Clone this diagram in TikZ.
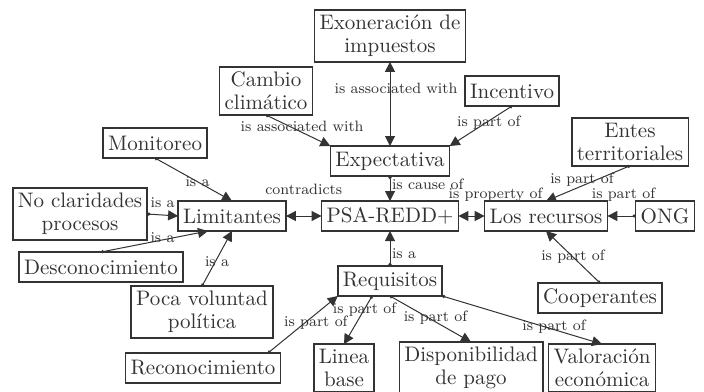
\documentclass[tikz,border=0pt]{standalone}
\usetikzlibrary{arrows.meta}
\definecolor{ink}{RGB}{51,51,51}
\begin{document}
\begin{tikzpicture}[x=0.5pt, y=-0.5pt, outer sep=0pt]
  \tikzstyle{concept}=[
    draw=ink,
    text=ink,
    rectangle,
    fill=white,
    line width=0.75pt,
    inner xsep=2.5pt,
    inner ysep=2.5pt,
    minimum height=15pt,
    align=center,
    font=\fontsize{10.5}{11.5}\selectfont
  ]
  \tikzstyle{link} = [draw=ink, line width=0.5pt, {Circle[length=1.6pt]}-{Triangle[length=5pt,width=5pt]}]
  \tikzstyle{twoway} = [draw=ink, line width=0.5pt, {Triangle[length=5pt,width=5pt]}-{Triangle[length=5pt,width=5pt]}]
  \tikzstyle{lbl}=[text=ink, inner sep=0pt, font=\fontsize{7.5}{8}\selectfont]

  \fill[white] (0,0) rectangle (704,391);
  \useasboundingbox (0,0) rectangle (704,391);

  % top
  \node[concept] (exon) at (390,36) {Exoneración de\\impuestos};
  \node[concept] (cambio) at (266,91) {Cambio\\climático};
  \node[concept] (incent) at (512,91) {Incentivo};
  \node[concept] (monit) at (155,143) {Monitoreo};
  \node[concept] (expect) at (390,161) {Expectativa};
  \node[concept] (entes) at (630,142) {Entes\\territoriales};
  \draw[twoway] (exon.south) -- (expect.north) node[lbl, pos=0.32, xshift=3pt] {is associated with};
  \draw[link] (cambio.south) -- (expect.north west) node[lbl, pos=0.5, xshift=2pt, yshift=2pt] {is associated with};
  \draw[link] (incent.south) -- (expect.north east) node[lbl, pos=0.5, xshift=4pt, yshift=1.5pt] {is part of};

  % middle row
  \node[concept] (noclar) at (80,214) {No claridades\\procesos};
  \node[concept] (limit) at (232,216) {Limitantes};
  \node[concept] (psa) at (390,216) {PSA-REDD+};
  \node[concept] (recur) at (546,216) {Los recursos};
  \node[concept] (ong) at (665,216) {ONG};
  \draw[link] (monit.south) -- (limit.north) node[lbl, pos=0.5, xshift=2pt, yshift=-1pt] {is a};
  \draw[link] (expect.south) -- (psa.north) node[lbl, pos=0.35, anchor=west, xshift=1pt] {is cause of};
  \draw[twoway] (limit.east) -- (psa.west) node[lbl, pos=0.5, yshift=13.5pt] {contradicts};
  \draw[twoway] (psa.east) -- (recur.west) node[lbl, pos=0.5, xshift=12pt, yshift=10.5pt] {is property of};
  \draw[link] (entes.south) -- (recur.north) node[lbl, pos=0.5, xshift=-3pt, yshift=2pt] {is part of};
  \draw[link] (ong.west) -- (recur.east) node[lbl, pos=0.5, xshift=1pt, yshift=10.5pt] {is part of};
  \draw[link] (noclar.east) -- (limit.west) node[lbl, pos=0.5, yshift=6pt] {is a};

  % lower part
  \node[concept] (descon) at (101,267) {Desconocimiento};
  \node[concept] (requis) at (390,281) {Requisitos};
  \node[concept] (coop) at (600,298) {Cooperantes};
  \node[concept] (poca) at (202,312) {Poca voluntad\\política};
  \node[concept] (recon) at (203,368) {Reconocimiento};
  \node[concept] (linea) at (344,368) {Linea\\base};
  \node[concept] (dispon) at (471,368) {Disponibilidad\\de pago};
  \node[concept] (valor) at (602,368) {Valoración\\económica};
  \draw[link] (descon.north) -- (limit.212) node[lbl, pos=0.5, xshift=4pt, yshift=2pt] {is a};
  \draw[link] (poca.north) -- (limit.south) node[lbl, pos=0.5, yshift=-1.5pt] {is a};
  \draw[link] (requis.north) -- (psa.south) node[lbl, pos=0.36, anchor=west, xshift=1pt] {is a};
  \draw[link] (coop.north) -- (recur.south) node[lbl, pos=0.5] {is part of};
  \draw[link] (recon.13) -- (requis.south west) node[lbl, pos=0.5, xshift=6.5pt, yshift=1pt] {is part of};
  \draw[link] (requis.220) -- (linea.north) node[lbl, pos=0.5, xshift=3.25pt, yshift=5.25pt] {is part of};
  \draw[link] (requis.south) -- (dispon.north) node[lbl, pos=0.5, xshift=2.5pt, yshift=0.5pt] {is part of};
  \draw[link] (requis.south east) -- (valor.north) node[lbl, pos=0.7, yshift=1.5pt] {is part of};
\end{tikzpicture}
\end{document}
